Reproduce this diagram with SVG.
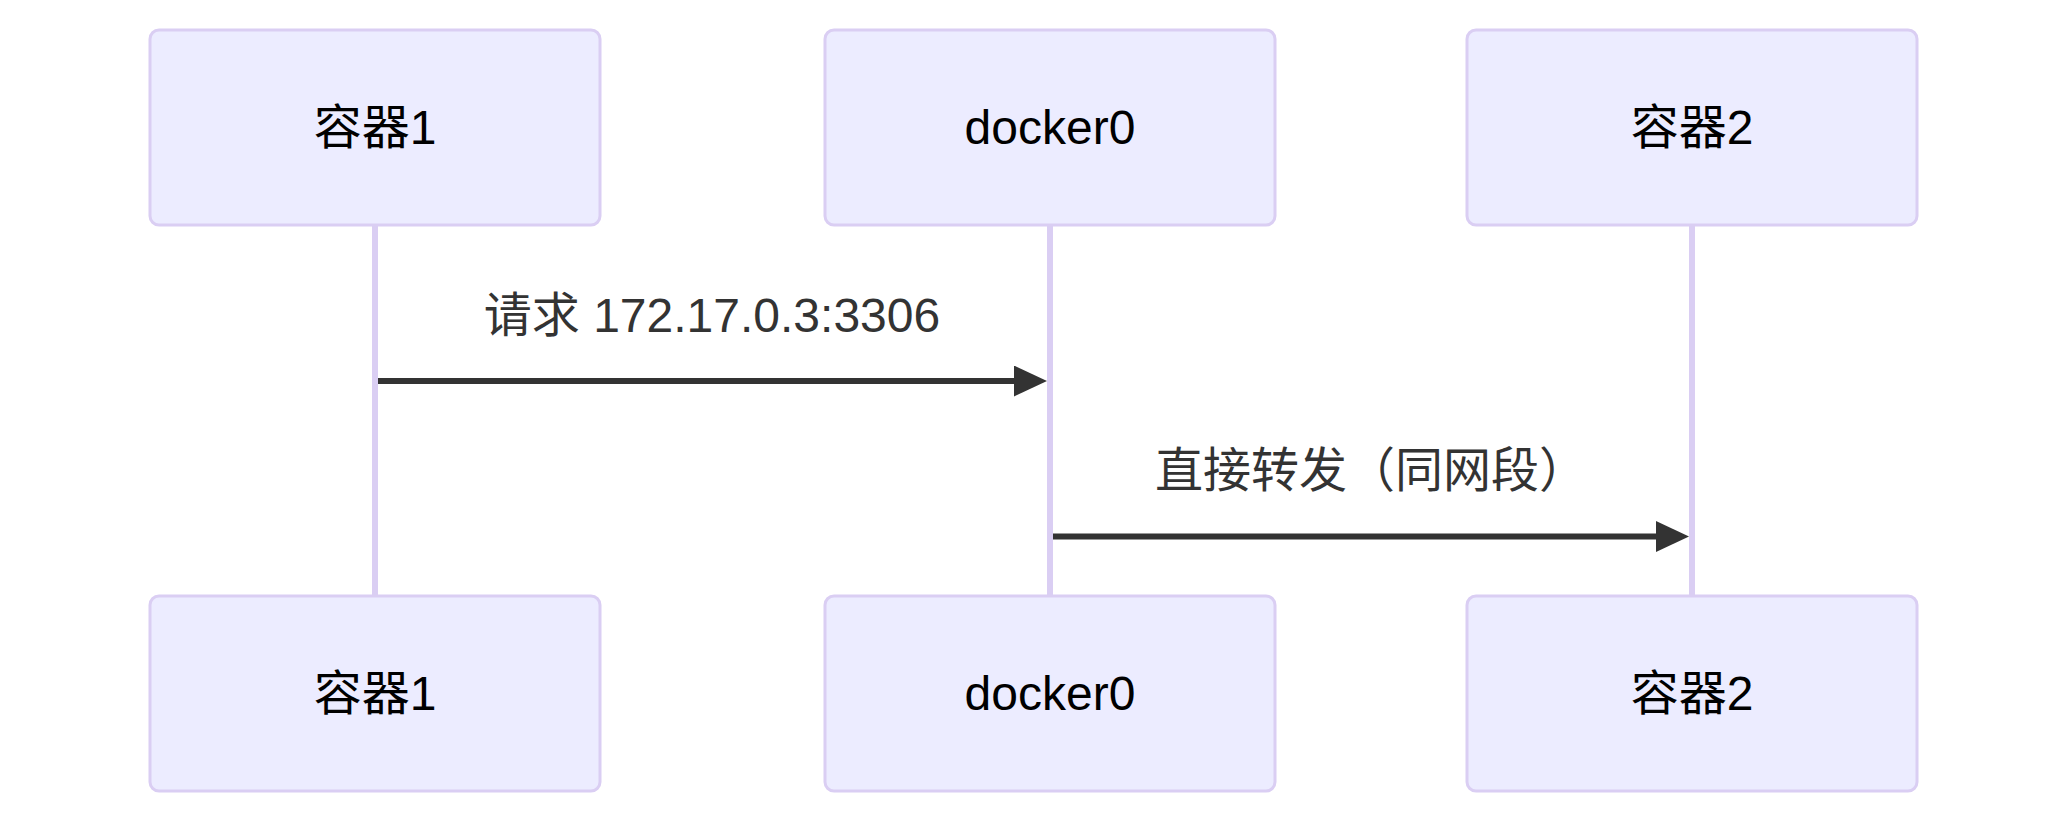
<svg xmlns="http://www.w3.org/2000/svg" width="2067" height="825" viewBox="0 0 2067 825">
<style>
.actor{fill:#ECECFF;stroke:#DACEF3;stroke-width:3}
.atext{font-family:"Liberation Sans","Noto Sans CJK SC",sans-serif;font-size:48px;fill:#000;text-anchor:middle}
.life{stroke:#DACEF3;stroke-width:6}
.msg{stroke:#333;stroke-width:6;fill:none}
.mtext{font-family:"Liberation Sans","Noto Sans CJK SC",sans-serif;font-size:48px;fill:#333;text-anchor:middle}
</style>
<defs>
<marker id="arrow" markerUnits="userSpaceOnUse" markerWidth="34" markerHeight="32" refX="6" refY="15.5" orient="auto">
<path d="M0,0 L33,15.5 L0,31 z" fill="#333"/>
</marker>
</defs>
<rect width="2067" height="825" fill="#fff"/>
<g id="lifelines">
<line class="life" x1="375" y1="225" x2="375" y2="596"/>
<line class="life" x1="1050" y1="225" x2="1050" y2="596"/>
<line class="life" x1="1692" y1="225" x2="1692" y2="596"/>
</g>
<g id="actor1-top"><rect class="actor" x="150" y="30" width="450" height="195" rx="9"/><text class="atext" x="375" y="144">容器1</text></g>
<g id="actor2-top"><rect class="actor" x="825" y="30" width="450" height="195" rx="9"/><text class="atext" x="1050" y="144">docker0</text></g>
<g id="actor3-top"><rect class="actor" x="1467" y="30" width="450" height="195" rx="9"/><text class="atext" x="1692" y="144">容器2</text></g>
<g id="actor1-bottom"><rect class="actor" x="150" y="596" width="450" height="195" rx="9"/><text class="atext" x="375" y="710">容器1</text></g>
<g id="actor2-bottom"><rect class="actor" x="825" y="596" width="450" height="195" rx="9"/><text class="atext" x="1050" y="710">docker0</text></g>
<g id="actor3-bottom"><rect class="actor" x="1467" y="596" width="450" height="195" rx="9"/><text class="atext" x="1692" y="710">容器2</text></g>
<g id="connectors">
<text class="mtext" x="712" y="332">请求 172.17.0.3:3306</text>
<line class="msg" x1="378" y1="381" x2="1020" y2="381" marker-end="url(#arrow)"/>
<text class="mtext" x="1371" y="487">直接转发（同网段）</text>
<line class="msg" x1="1053" y1="536.5" x2="1662" y2="536.5" marker-end="url(#arrow)"/>
</g>
</svg>
